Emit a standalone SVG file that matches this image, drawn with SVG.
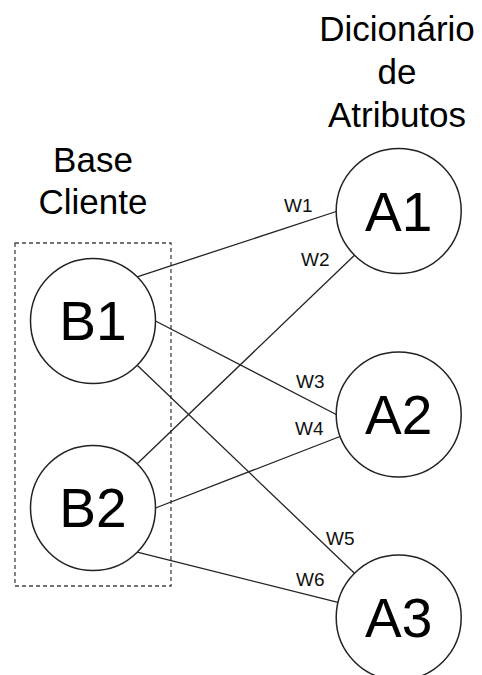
<svg xmlns="http://www.w3.org/2000/svg" width="482" height="675" viewBox="0 0 482 675">
<style>
.node circle{fill:#fff;stroke:#222;stroke-width:1.5}
.node text{font-family:"Liberation Sans",Arial,sans-serif;font-size:55px;text-anchor:middle;fill:#000}
.title{font-family:"Liberation Sans",Arial,sans-serif;font-size:35px;text-anchor:middle;fill:#000}
.conn line{stroke:#222;stroke-width:1.3}
.w{font-family:"Liberation Sans",Arial,sans-serif;font-size:19px;fill:#111}
</style>
<rect width="482" height="675" fill="#fff"/>
<g id="title-attr">
<text class="title" x="397" y="41">Dicionário</text>
<text class="title" x="397" y="84">de</text>
<text class="title" x="397" y="127">Atributos</text>
</g>
<g id="title-base">
<text class="title" x="93" y="172">Base</text>
<text class="title" x="93" y="214">Cliente</text>
</g>
<g id="group-base">
<rect x="15" y="243" width="156" height="343" fill="none" stroke="#444" stroke-width="1.3" stroke-dasharray="4,3"/>
</g>
<g id="connectors" class="conn">
<line x1="137.2" y1="276.8" x2="336.2" y2="211.5"/>
<line x1="155.5" y1="321" x2="336.2" y2="414.5"/>
<line x1="137.2" y1="365.2" x2="354.5" y2="573.3"/>
<line x1="137.2" y1="463.8" x2="354.5" y2="255.2"/>
<line x1="155.5" y1="508" x2="340" y2="436.5"/>
<line x1="137.2" y1="552.2" x2="338" y2="602.4"/>
<text class="w" x="284" y="212">W1</text>
<text class="w" x="301" y="266">W2</text>
<text class="w" x="296" y="388">W3</text>
<text class="w" x="295" y="435">W4</text>
<text class="w" x="326" y="545">W5</text>
<text class="w" x="296" y="586">W6</text>
</g>
<g id="B1" class="node"><circle cx="93" cy="321" r="62.5"/><text x="93" y="340">B1</text></g>
<g id="B2" class="node"><circle cx="93" cy="508" r="62.5"/><text x="93" y="527">B2</text></g>
<g id="A1" class="node"><circle cx="398.7" cy="211" r="62.5"/><text x="398.7" y="231">A1</text></g>
<g id="A2" class="node"><circle cx="398.7" cy="414.5" r="62.5"/><text x="398.7" y="434">A2</text></g>
<g id="A3" class="node"><circle cx="398.7" cy="617.5" r="62.5"/><text x="398.7" y="637">A3</text></g>
</svg>
